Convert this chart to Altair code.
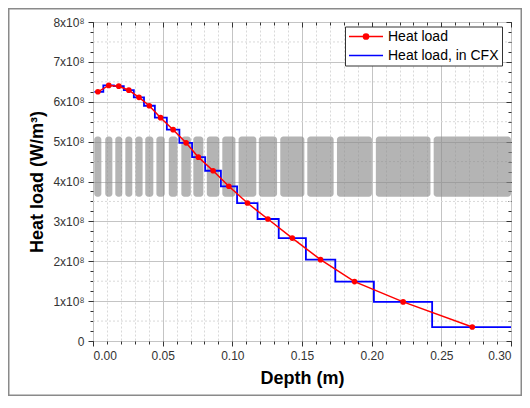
import altair as alt
import pandas as pd

# ---- data ----
depth = [0.0035, 0.0113, 0.0185, 0.0257, 0.0330, 0.0404, 0.0485, 0.0575, 0.0668, 0.0756,
         0.0862, 0.0975, 0.1108, 0.1255, 0.1430, 0.1633, 0.1877, 0.2226, 0.2722]
heat_load = [6.25e8, 6.41e8, 6.39e8, 6.29e8, 6.11e8, 5.90e8, 5.60e8, 5.30e8, 4.97e8, 4.61e8,
             4.27e8, 3.88e8, 3.46e8, 3.06e8, 2.58e8, 2.04e8, 1.49e8, 0.98e8, 0.35e8]

cfx_depth = [0.0010, 0.0074, 0.0150, 0.0221, 0.0293, 0.0366, 0.0444, 0.0530, 0.0620, 0.0711,
             0.0805, 0.0918, 0.1034, 0.1181, 0.1333, 0.1528, 0.1739, 0.2016, 0.2434, 0.3000]
cfx_heat = [6.25e8, 6.41e8, 6.39e8, 6.29e8, 6.11e8, 5.90e8, 5.60e8, 5.30e8, 4.97e8, 4.61e8,
            4.27e8, 3.88e8, 3.46e8, 3.06e8, 2.58e8, 2.04e8, 1.49e8, 0.98e8, 0.35e8, 0.35e8]

block_start = [0.0009, 0.0088, 0.0160, 0.0232, 0.0304, 0.0375, 0.0455, 0.0544, 0.0634, 0.0720,
               0.0817, 0.0928, 0.1045, 0.1190, 0.1344, 0.1538, 0.1751, 0.2030, 0.2445]
block_end = [0.0060, 0.0139, 0.0210, 0.0282, 0.0356, 0.0433, 0.0515, 0.0607, 0.0702, 0.0792,
             0.0907, 0.1022, 0.1172, 0.1321, 0.1517, 0.1727, 0.2002, 0.2422, 0.3000]
band_bottom = 3.62e8
band_top = 5.13e8

series_names = ["Heat load", "Heat load, in CFX"]
series_colors = ["#ff0000", "#0000ff"]

x_major = [0.00, 0.05, 0.10, 0.15, 0.20, 0.25, 0.30]
x_minor = [0.01, 0.02, 0.03, 0.04, 0.06, 0.07, 0.08, 0.09, 0.11, 0.12, 0.13, 0.14,
           0.16, 0.17, 0.18, 0.19, 0.21, 0.22, 0.23, 0.24, 0.26, 0.27, 0.28, 0.29]
y_major = [0, 1e8, 2e8, 3e8, 4e8, 5e8, 6e8, 7e8, 8e8]
y_minor = [i * 0.25e8 for i in range(33)]
y_grid_minor = [0.5e8, 1.5e8, 2.5e8, 3.5e8, 4.5e8, 5.5e8, 6.5e8, 7.5e8]

FONT = "Liberation Sans"
W, H = 418, 319

xs = alt.Scale(domain=[0, 0.30], nice=False, zero=False)
ys = alt.Scale(domain=[0, 8e8], nice=False)

red_df = pd.DataFrame({"depth": depth, "heat": heat_load, "series": series_names[0]})
blue_df = pd.DataFrame({"depth": cfx_depth, "heat": cfx_heat, "series": series_names[1]})
block_df = pd.DataFrame({"x0": block_start, "x1": block_end,
                         "y0": [band_bottom] * len(block_start), "y1": [band_top] * len(block_start)})
ygrid_df = pd.DataFrame({"g": y_grid_minor})

line_sym = "M-1,0L4.67,0"
dot_sym = "M-1,0L4.67,0M1.4,0A0.43,0.43,0,1,1,2.27,0A0.43,0.43,0,1,1,1.4,0Z"

color = alt.Color(
    "series:N",
    scale=alt.Scale(domain=series_names, range=series_colors),
    legend=alt.Legend(
        title=None, orient="none", legendX=252, legendY=4.5, direction="vertical",
        fillColor="white", strokeColor="#333333", padding=3, rowPadding=5,
        symbolType=alt.ExprRef(expr=f"datum.label === '{series_names[0]}' ? '{dot_sym}' : '{line_sym}'"),
        symbolFillColor=alt.ExprRef(expr=f"datum.label === '{series_names[0]}' ? '{series_colors[0]}' : 'transparent'"),
        symbolSize=144, symbolStrokeWidth=1.5,
        labelOffset=26, labelFontSize=14, labelFont=FONT, labelColor="black",
        cornerRadius=0,
    ),
)

# minor horizontal grid + left minor ticks
ygrid = alt.Chart(ygrid_df).mark_rule(color="#d9d9d9", strokeDash=[2, 2], strokeWidth=1).encode(
    y=alt.Y("g:Q", scale=ys,
            axis=alt.Axis(orient="left", values=y_minor, tickSize=3, labels=False, domain=False,
                          grid=False, title=""))
)

blocks = alt.Chart(block_df).mark_rect(color="#8c8c8c", opacity=0.65, cornerRadius=3).encode(
    x=alt.X("x0:Q", scale=xs,
            axis=alt.Axis(orient="bottom", values=x_major, format=".2f", tickSize=5, labelPadding=4,
                          labelFontSize=12, labelColor="#333333", grid=True,
                          gridColor="#c4c4c4", domain=False, title="Depth (m)",
                          titleFontSize=18, titleFontWeight="bold", titleColor="black",
                          titlePadding=8)),
    x2="x1:Q",
    y=alt.Y("y0:Q", scale=ys,
            axis=alt.Axis(orient="left", values=y_major, tickSize=5, labelPadding=4, labelFontSize=12,
                          labelColor="#333333", grid=True, gridColor="#c4c4c4", domain=False,
                          labelExpr="datum.value == 0 ? '0' : format(datum.value / 1e8, 'd') + 'x10⁸'",
                          title="Heat load (W/m³)", titleFontSize=18, titleFontWeight="bold",
                          titleColor="black", titlePadding=6)),
    y2="y1:Q",
)

blue = alt.Chart(blue_df).mark_line(interpolate="step-after", strokeWidth=1.8).encode(
    x=alt.X("depth:Q", scale=xs,
            axis=alt.Axis(orient="bottom", values=x_minor, tickSize=3, labels=False, domain=False,
                          grid=True, gridColor="#d9d9d9", gridDash=[2, 2], title="")),
    y=alt.Y("heat:Q", scale=ys,
            axis=alt.Axis(orient="right", values=y_major, tickSize=5, offset=-5, labels=False,
                          domain=False, grid=False, title="")),
    color=color,
)

red_line = alt.Chart(red_df).mark_line(strokeWidth=1.5).encode(
    x=alt.X("depth:Q", scale=xs,
            axis=alt.Axis(orient="top", values=x_major, tickSize=5, offset=-5, labels=False,
                          domain=False, grid=False, title="")),
    y=alt.Y("heat:Q", scale=ys,
            axis=alt.Axis(orient="right", values=y_minor, tickSize=3, offset=-3, labels=False,
                          domain=False, grid=False, title="")),
    color=color,
)

red_pts = alt.Chart(red_df).mark_point(filled=True, size=32, opacity=1, color="#ff0000").encode(
    x=alt.X("depth:Q", scale=xs,
            axis=alt.Axis(orient="top", values=x_minor, tickSize=3, offset=-3, labels=False,
                          domain=False, grid=False, title="")),
    y=alt.Y("heat:Q", scale=ys, axis=None),
)

frame = alt.Chart(pd.DataFrame({"a": [0]})).mark_rect(
    fill="white", fillOpacity=0, stroke="#8a8a8a", strokeWidth=1.5
).encode(
    x=alt.value(-84.25), x2=alt.value(428.25), y=alt.value(-13.25), y2=alt.value(373.25)
)

chart = alt.layer(ygrid, blocks, blue, red_line, red_pts, frame).resolve_axis(
    x="independent", y="independent"
).properties(
    width=W, height=H,
    autosize=alt.AutoSizeParams(type="none"),
    padding={"left": 85, "top": 14, "right": 11, "bottom": 55},
).configure_view(
    stroke="#333333", strokeWidth=1
).configure_axis(
    labelFont=FONT, titleFont=FONT, tickColor="#333333", tickWidth=1
)

chart.save("out.html", embed_options={"renderer": "svg", "actions": False})
